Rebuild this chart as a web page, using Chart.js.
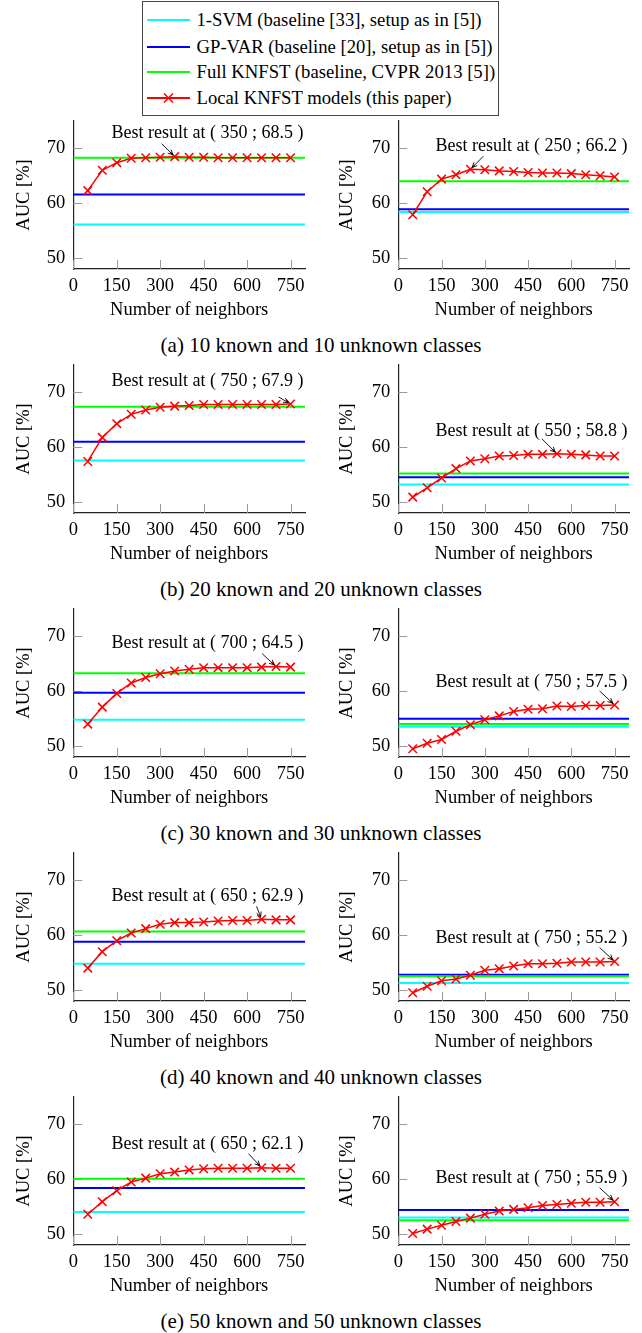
<!DOCTYPE html>
<html>
<head>
<meta charset="utf-8">
<script src="https://cdn.jsdelivr.net/npm/chart.js@4.4.1/dist/chart.umd.min.js"></script>
<style>
  body { margin: 0; background: #fff; }
  #fig { position: relative; width: 642px; height: 1333px; font-family: "Liberation Serif", serif; color: #000; }
  #fig canvas { position: absolute; }
  .cap { position: absolute; left: 0; width: 642px; text-align: center; font-size: 21px; line-height: 24px; white-space: nowrap; }
  #legend { position: absolute; left: 142px; top: 1px; width: 355px; height: 113px; border: 1.5px solid #444; background: #fff; z-index: 2; font-size: 18.7px; }
  .lrow { position: absolute; left: 0; height: 24px; line-height: 24px; white-space: nowrap; }
  .lrow svg { position: absolute; left: 3.5px; top: 0; }
  .lrow span { position: absolute; left: 53.5px; top: 0; }
</style>
</head>
<body>
<div id="fig">
  <div id="legend"></div>
</div>
<script>
// valeurs (AUC en %)
const neighbors = [50, 100, 150, 200, 250, 300, 350, 400, 450, 500, 550, 600, 650, 700, 750];
const xTicks = [0, 150, 300, 450, 600, 750];
const yTicks = [50, 60, 70];
const captions = [
  "(a) 10 known and 10 unknown classes",
  "(b) 20 known and 20 unknown classes",
  "(c) 30 known and 30 unknown classes",
  "(d) 40 known and 40 unknown classes",
  "(e) 50 known and 50 unknown classes"
];
const seriesNames = [
  "1-SVM (baseline [33], setup as in [5])",
  "GP-VAR (baseline [20], setup as in [5])",
  "Full KNFST (baseline, CVPR 2013 [5])",
  "Local KNFST models (this paper)"
];

// un panneau par graphique : aL, aR, bL, bR, ...
const svm       = [56.1, 58.4, 57.6, 53.2, 54.8, 53.5, 54.8, 51.3, 54.0, 53.0];
const gpVar     = [61.6, 58.9, 61.0, 54.5, 59.7, 55.0, 58.8, 52.8, 58.4, 54.4];
const fullKnfst = [68.3, 64.0, 67.4, 55.2, 63.3, 54.0, 60.7, 52.5, 60.1, 52.5];
const localKnfst = [
  [62.3, 66.0, 67.4, 68.2, 68.3, 68.4, 68.5, 68.4, 68.4, 68.3, 68.3, 68.3, 68.3, 68.3, 68.3],
  [57.9, 62.1, 64.4, 65.2, 66.2, 66.1, 65.9, 65.8, 65.6, 65.5, 65.5, 65.4, 65.2, 65.0, 64.8],
  [57.4, 61.8, 64.3, 66.0, 66.8, 67.3, 67.5, 67.6, 67.8, 67.8, 67.8, 67.8, 67.8, 67.8, 67.9],
  [50.9, 52.6, 54.4, 56.1, 57.5, 57.9, 58.4, 58.5, 58.7, 58.7, 58.8, 58.7, 58.6, 58.4, 58.4],
  [54.0, 57.1, 59.6, 61.5, 62.5, 63.2, 63.7, 64.0, 64.3, 64.3, 64.3, 64.3, 64.4, 64.5, 64.4],
  [49.5, 50.5, 51.2, 52.7, 53.9, 54.8, 55.5, 56.3, 56.7, 56.8, 57.3, 57.2, 57.4, 57.4, 57.5],
  [54.0, 57.0, 59.0, 60.4, 61.2, 62.0, 62.3, 62.3, 62.4, 62.6, 62.7, 62.7, 62.9, 62.8, 62.8],
  [49.5, 50.7, 51.7, 52.0, 52.7, 53.6, 53.9, 54.4, 54.8, 54.8, 54.9, 55.1, 55.1, 55.1, 55.2],
  [53.6, 55.9, 57.9, 59.5, 60.2, 61.0, 61.3, 61.7, 61.9, 62.0, 62.0, 62.0, 62.1, 62.0, 62.0],
  [50.1, 50.9, 51.6, 52.3, 52.9, 53.6, 54.2, 54.5, 54.8, 55.2, 55.4, 55.6, 55.8, 55.8, 55.9]
];
const bestAt = [[350, 68.5], [250, 66.2], [750, 67.9], [550, 58.8], [700, 64.5],
                [750, 57.5], [650, 62.9], [750, 55.2], [650, 62.1], [750, 55.9]];

// style
const colors = ["#00ffff", "#0000ff", "#00ff00", "#ff0000"];
const pinTail = [[-13, -13], [13, -13], [-12, -7], [-15, -15], [-14, -13],
                 [-15, -14], [-5, -13], [-15, -14], [-13, -14], [-15, -14]];
const FONT = '"Liberation Serif", serif';
Chart.defaults.font.family = FONT;
Chart.defaults.color = "#000";

// légende commune
const legend = document.getElementById("legend");
const rowY = [17.5, 44.5, 69.5, 95.5];
seriesNames.forEach((name, k) => {
  const row = document.createElement("div");
  row.className = "lrow";
  row.style.top = (rowY[k] - 12) + "px";
  let sym = '<line x1="0" y1="12" x2="43" y2="12" stroke="' + colors[k] + '" stroke-width="2"/>';
  if (k === 3) {
    sym += '<path d="M17 7.5 L26 16.5 M26 7.5 L17 16.5" stroke="' + colors[k] + '" stroke-width="1.5"/>';
  }
  row.innerHTML = '<svg width="44" height="24">' + sym + '</svg><span>' + name + '</span>';
  legend.appendChild(row);
});

// légendes des sous-figures
captions.forEach((c, r) => {
  const d = document.createElement("div");
  d.className = "cap";
  d.style.top = (332.8 + 244 * r) + "px";
  d.textContent = c;
  document.getElementById("fig").appendChild(d);
});

// petits traits de graduation vers l'intérieur
const innerTicks = {
  id: "innerTicks",
  beforeDatasetsDraw(chart) {
    const { ctx, chartArea: a, scales: { x, y } } = chart;
    ctx.save();
    ctx.strokeStyle = "#9a9a9a";
    ctx.lineWidth = 1;
    ctx.beginPath();
    x.ticks.forEach(t => {
      const px = Math.round(x.getPixelForValue(t.value)) + 0.5;
      ctx.moveTo(px, a.bottom);
      ctx.lineTo(px, a.bottom - 9);
    });
    y.ticks.forEach(t => {
      const py = Math.round(y.getPixelForValue(t.value)) + 0.5;
      ctx.moveTo(a.left, py);
      ctx.lineTo(a.left + 9, py);
    });
    ctx.stroke();
    ctx.restore();
  }
};

// "Best result at (...)" avec flèche
const pin = {
  id: "pin",
  afterDatasetsDraw(chart, args, opts) {
    const { ctx, chartArea: a, scales: { x, y } } = chart;
    const px = x.getPixelForValue(opts.at[0]);
    const py = y.getPixelForValue(opts.at[1]);
    ctx.save();
    ctx.font = "18px " + FONT;
    ctx.fillStyle = "#000";
    ctx.textAlign = "right";
    ctx.textBaseline = "middle";
    ctx.fillText("Best result at ( " + opts.at[0] + " ; " + opts.at[1].toFixed(1) + " )", a.right - 1.5, py - 23);
    const tx = px + opts.tail[0], ty = py + opts.tail[1];
    const ang = Math.atan2(py - ty, px - tx);
    const hx = px - Math.cos(ang) * 2.5, hy = py - Math.sin(ang) * 2.5;
    ctx.strokeStyle = "#000";
    ctx.lineWidth = 0.9;
    ctx.beginPath();
    ctx.moveTo(tx, ty);
    ctx.lineTo(hx, hy);
    [-1, 1].forEach(s => {
      ctx.moveTo(hx, hy);
      ctx.lineTo(hx - 5.5 * Math.cos(ang + s * 0.45), hy - 5.5 * Math.sin(ang + s * 0.45));
    });
    ctx.stroke();
    ctx.restore();
  }
};

function flat(v, color) {
  return {
    data: [{ x: 0, y: v }, { x: 800, y: v }],
    borderColor: color,
    borderWidth: 2,
    pointRadius: 0
  };
}

for (let i = 0; i < 10; i++) {
  const col = i % 2, row = Math.floor(i / 2);
  const w = col ? 322 : 320, h = 233;
  const canvas = document.createElement("canvas");
  canvas.width = w;
  canvas.height = h;
  canvas.style.width = w + "px";
  canvas.style.height = h + "px";
  canvas.style.left = (col ? 320 : 0) + "px";
  canvas.style.top = (121 + 244 * row - 30) + "px";
  document.getElementById("fig").appendChild(canvas);

  const tickFont = { family: FONT, size: 18.5 };
  new Chart(canvas.getContext("2d"), {
    type: "line",
    data: {
      datasets: [
        {
          data: neighbors.map((n, k) => ({ x: n, y: localKnfst[i][k] })),
          borderColor: colors[3],
          backgroundColor: colors[3],
          borderWidth: 1.5,
          pointStyle: "crossRot",
          pointRadius: 6,
          pointBorderWidth: 1.5,
          tension: 0
        },
        flat(fullKnfst[i], colors[2]),
        flat(gpVar[i], colors[1]),
        flat(svm[i], colors[0])
      ]
    },
    options: {
      responsive: false,
      animation: false,
      events: [],
      layout: { padding: { top: 30, right: col ? 13 : 15, bottom: 0, left: 0 } },
      plugins: {
        legend: { display: false },
        tooltip: { enabled: false },
        pin: { at: bestAt[i], tail: pinTail[i] }
      },
      scales: {
        x: {
          type: "linear",
          min: 0,
          max: 800,
          afterBuildTicks: s => { s.ticks = xTicks.map(v => ({ value: v })); },
          afterFit: s => { s.height = 55; },
          grid: { display: false, drawTicks: false },
          border: { display: true, color: "#222", width: 1.2 },
          ticks: { font: tickFont, padding: 6, maxRotation: 0, autoSkip: false },
          title: { display: true, text: "Number of neighbors", font: tickFont, padding: { top: 0, bottom: 3 } }
        },
        y: {
          min: 48,
          max: 75,
          afterBuildTicks: s => { s.ticks = yTicks.map(v => ({ value: v })); },
          afterFit: s => { s.width = col ? 78.3 : 73.3; },
          grid: { display: false, drawTicks: false },
          border: { display: true, color: "#222", width: 1.2 },
          ticks: { font: tickFont, padding: 8 },
          title: { display: true, text: "AUC [%]", font: tickFont, padding: { top: col ? 16 : 13, bottom: 0 } }
        }
      }
    },
    plugins: [innerTicks, pin]
  });
}
</script>
</body>
</html>
